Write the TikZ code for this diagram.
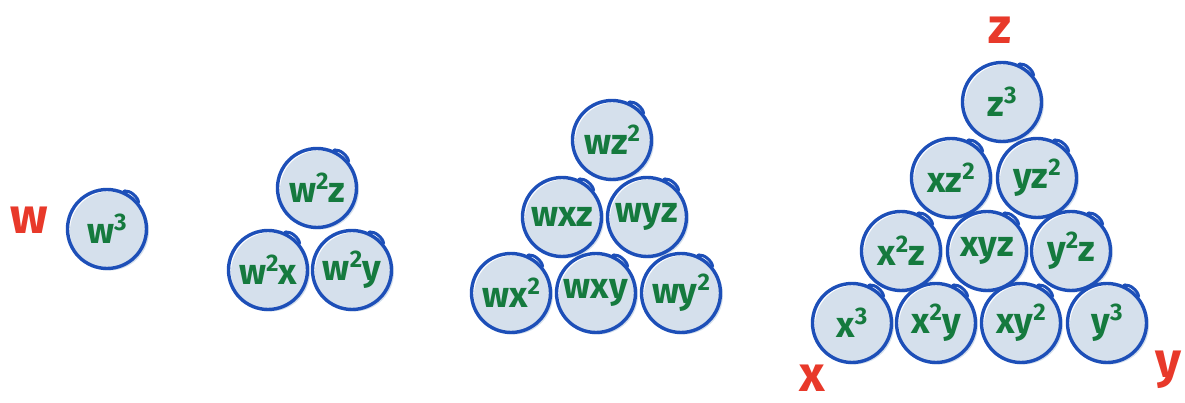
\documentclass[tikz,border=0pt]{standalone}
\usepackage{fontspec}
\setmainfont{Fira Sans}
\definecolor{ballblue}{HTML}{1D4FB8}
\definecolor{ballfill}{HTML}{D5E0EC}
\definecolor{labgreen}{HTML}{157A3E}
\definecolor{axred}{HTML}{E8392A}
\newcommand\sq[1]{\raisebox{13pt}{\fontsize{24}{24}\selectfont #1}}
\tikzset{
  ball/.style={circle, draw=ballblue, line width=3.4pt, minimum size=79pt, inner sep=0pt,
    preaction={fill=ballfill, transform canvas={shift={(2.5pt,-2pt)}}},
    text=labgreen, font=\fontsize{36}{36}\selectfont\bfseries},
  curl/.style={draw=ballblue, line width=3pt, line cap=round},
  axis/.style={text=axred, font=\fontsize{50}{50}\selectfont\bfseries}
}
\newcommand\ball[4]{%
  \node[ball] (#1) at (#2,#3) {#4};
  \draw[curl] (#1.64) .. controls +(4pt,3pt) and +(0pt,5pt) .. (#1.40);
  \fill[ballblue] (#1.64) circle (2.6pt);
}
\begin{document}
\begin{tikzpicture}[x=1pt,y=-1pt]
\useasboundingbox (0,0) rectangle (1185,403);
\ball{w3}{107}{229}{w\sq{3}}
\ball{w2z}{317}{188}{w\sq{2}z}
\ball{w2x}{268}{270}{w\sq{2}x}
\ball{w2y}{352}{270}{w\sq{2}y}
\ball{wz2}{612}{140}{wz\sq{2}}
\ball{wxz}{562}{217}{wxz}
\ball{wyz}{647}{217}{wyz}
\ball{wx2}{511}{293}{wx\sq{2}}
\ball{wxy}{596}{293}{wxy}
\ball{wy2}{681}{293}{wy\sq{2}}
\ball{z3}{1002}{102}{z\sq{3}}
\ball{xz2}{951}{178}{xz\sq{2}}
\ball{yz2}{1037}{178}{yz\sq{2}}
\ball{x2z}{901}{251}{x\sq{2}z}
\ball{xyz}{987}{251}{xyz}
\ball{y2z}{1071}{251}{y\sq{2}z}
\ball{x3}{852}{323}{x\sq{3}}
\ball{x2y}{936}{323}{x\sq{2}y}
\ball{xy2}{1021}{323}{xy\sq{2}}
\ball{y3}{1107}{323}{y\sq{3}}
\node[axis] (lw) at (29,220) {w};
\node[axis] (lz) at (1000,30) {z};
\node[axis] (lx) at (812,378) {x};
\node[axis] (ly) at (1168,370) {y};
\end{tikzpicture}
\end{document}
